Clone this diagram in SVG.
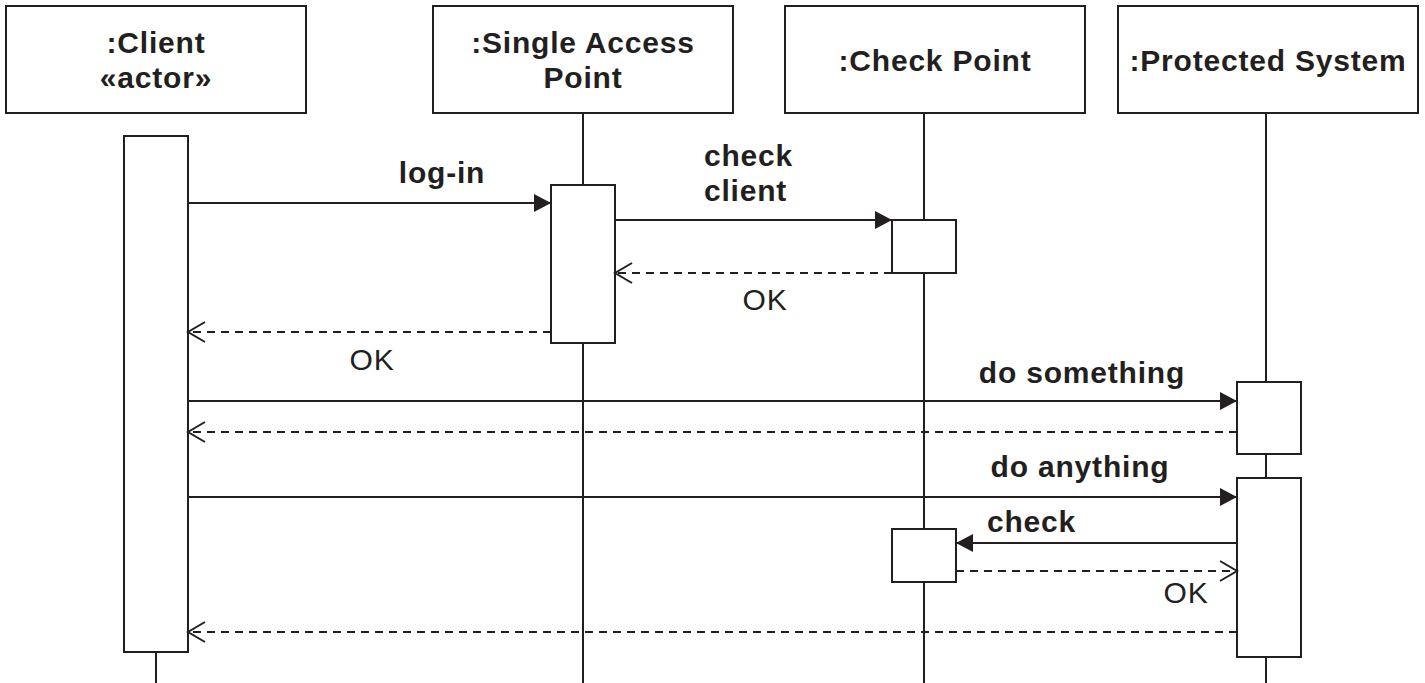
<svg xmlns="http://www.w3.org/2000/svg" width="1425" height="683" viewBox="0 0 1425 683">
<defs>
<style>
.box{fill:#fff;stroke:#231f20;stroke-width:2}
.life{stroke:#231f20;stroke-width:2;fill:none}
.msg{stroke:#231f20;stroke-width:2;fill:none}
.ret{stroke:#231f20;stroke-width:2;fill:none;stroke-dasharray:8 6}
.t{font-family:"Liberation Sans",Arial,sans-serif;font-size:30px;fill:#231f20;letter-spacing:0.8px}
.b{font-weight:bold}
.m{text-anchor:middle}
</style>
<marker id="filled" markerUnits="userSpaceOnUse" markerWidth="18" markerHeight="20" refX="17" refY="9" orient="auto" overflow="visible">
<path d="M0,0 L17,9 L0,18 z" fill="#231f20" stroke="none"/>
</marker>
<marker id="open" markerUnits="userSpaceOnUse" markerWidth="18" markerHeight="22" refX="17" refY="10" orient="auto" overflow="visible">
<path d="M0,0 L17,10 L0,20" fill="none" stroke="#231f20" stroke-width="2" stroke-dasharray="none"/>
</marker>
</defs>
<rect width="1425" height="683" fill="#fff"/>

<g id="client">
<rect class="box" x="6" y="6" width="300" height="107"/>
<text class="t b m" x="156" y="53">:Client</text>
<text class="t b m" x="156" y="88">«actor»</text>
<line class="life" x1="156" y1="652" x2="156" y2="683"/>
<rect class="box" x="124" y="136" width="64" height="516"/>
</g>

<g id="single-access-point">
<rect class="box" x="433" y="6" width="300" height="107"/>
<text class="t b m" x="583" y="53">:Single Access</text>
<text class="t b m" x="583" y="88">Point</text>
<line class="life" x1="583" y1="113" x2="583" y2="683"/>
<rect class="box" x="551" y="185" width="64" height="158"/>
</g>

<g id="check-point">
<rect class="box" x="785" y="6" width="300" height="107"/>
<text class="t b m" x="935" y="71">:Check Point</text>
<line class="life" x1="924" y1="113" x2="924" y2="683"/>
<rect class="box" x="892" y="220" width="64" height="53"/>
<rect class="box" x="892" y="529" width="64" height="53"/>
</g>

<g id="protected-system">
<rect class="box" x="1118" y="6" width="300" height="107"/>
<text class="t b m" x="1268" y="71">:Protected System</text>
<line class="life" x1="1266" y1="113" x2="1266" y2="683"/>
<rect class="box" x="1237" y="382" width="64" height="72"/>
<rect class="box" x="1237" y="478" width="64" height="179"/>
</g>

<g id="connectors">
<line class="msg" x1="188" y1="203" x2="551" y2="203" marker-end="url(#filled)"/>
<text class="t b m" x="442" y="183">log-in</text>

<line class="msg" x1="615" y1="220" x2="892" y2="220" marker-end="url(#filled)"/>
<text class="t b" x="704" y="166">check</text>
<text class="t b" x="704" y="201">client</text>

<line class="ret" x1="892" y1="273" x2="615" y2="273" marker-end="url(#open)"/>
<text class="t m" x="765" y="310">OK</text>

<line class="ret" x1="551" y1="332" x2="188" y2="332" marker-end="url(#open)"/>
<text class="t m" x="372" y="370">OK</text>

<line class="msg" x1="188" y1="401" x2="1237" y2="401" marker-end="url(#filled)"/>
<text class="t b m" x="1082" y="383">do something</text>

<line class="ret" x1="1237" y1="432" x2="188" y2="432" marker-end="url(#open)"/>

<line class="msg" x1="188" y1="497" x2="1237" y2="497" marker-end="url(#filled)"/>
<text class="t b m" x="1080" y="477">do anything</text>

<line class="msg" x1="1237" y1="543" x2="956" y2="543" marker-end="url(#filled)"/>
<text class="t b" x="987" y="532">check</text>

<line class="ret" x1="956" y1="571" x2="1237" y2="571" marker-end="url(#open)"/>
<text class="t m" x="1186" y="603">OK</text>

<line class="ret" x1="1237" y1="632" x2="188" y2="632" marker-end="url(#open)"/>
</g>
</svg>
